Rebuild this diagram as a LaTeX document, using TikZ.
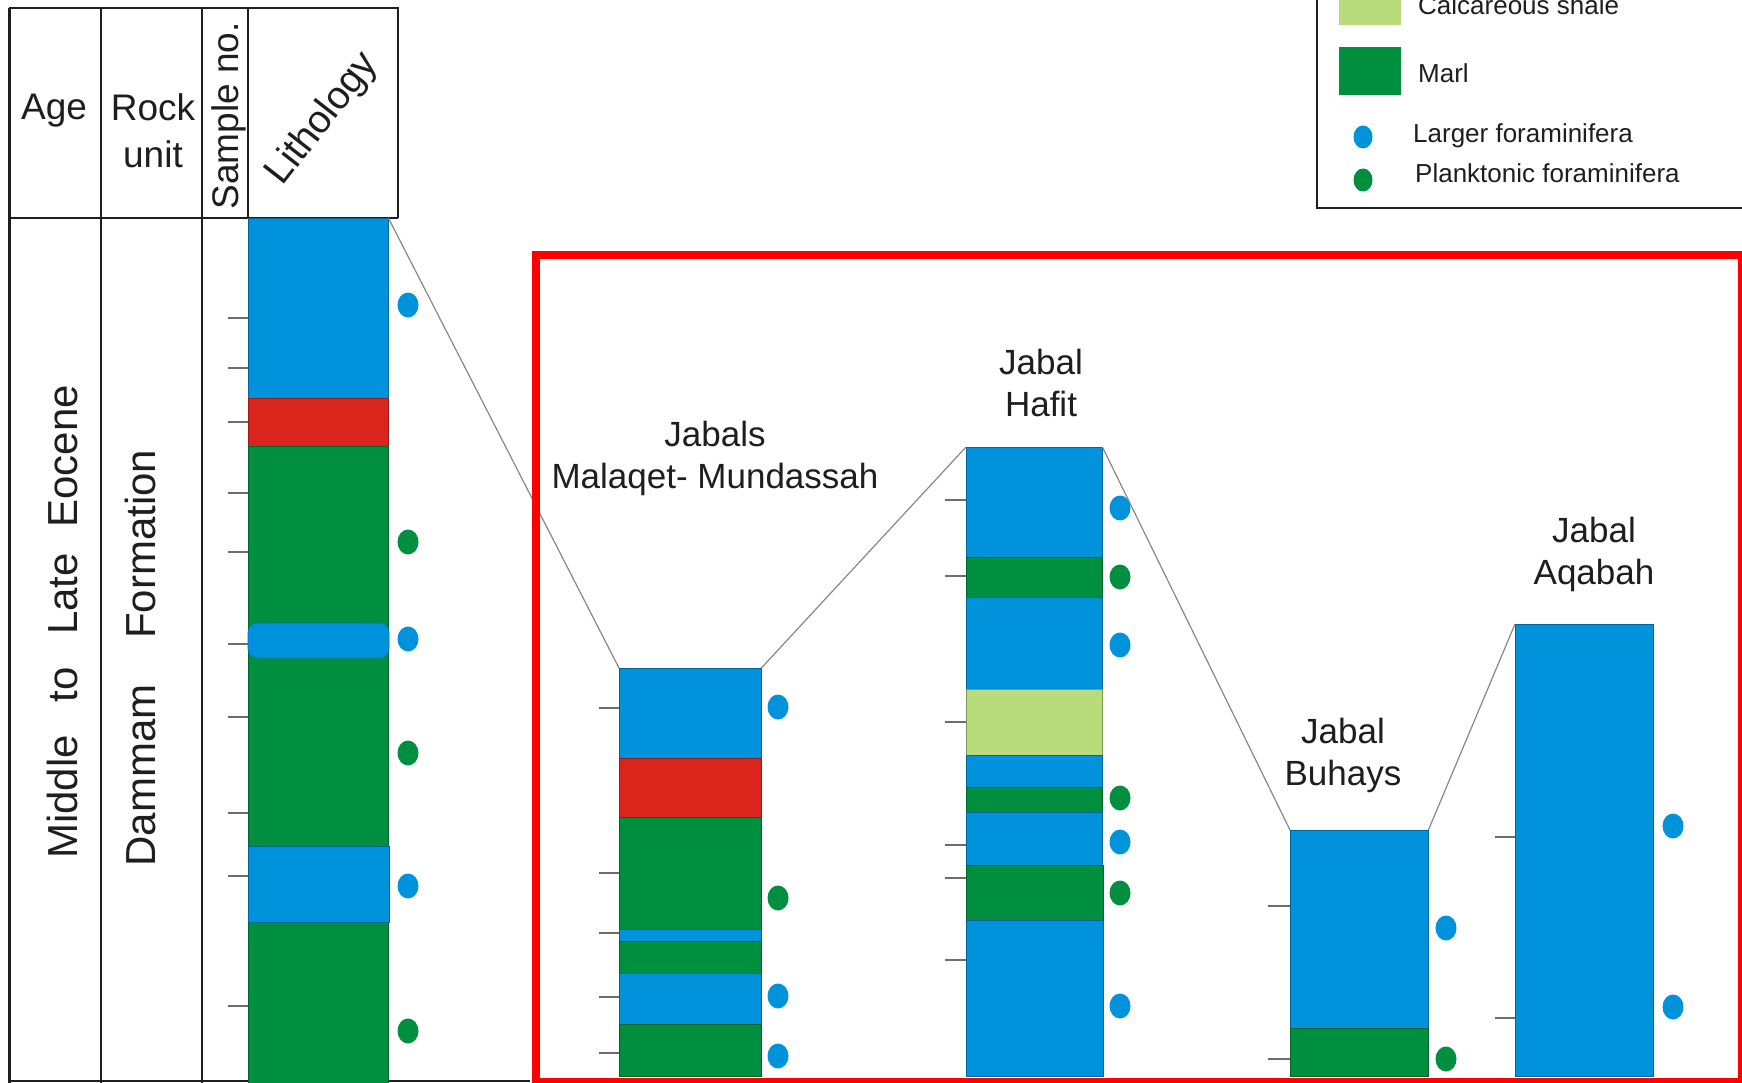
\documentclass[tikz,border=0pt]{standalone}
\usepackage{fontspec}
\setmainfont{Liberation Sans}
\usetikzlibrary{shapes.geometric}
\definecolor{lblue}{RGB}{0,146,219}
\definecolor{lred}{RGB}{217,37,28}
\definecolor{lgreen}{RGB}{0,143,62}
\definecolor{lpale}{RGB}{184,219,124}
\definecolor{hlred}{RGB}{255,0,0}
\definecolor{conn}{RGB}{135,135,135}
\definecolor{ink}{RGB}{30,30,30}
\newcommand\lyr[5]{\filldraw[fill=#1,draw=#1!70!black,line width=0.7pt] (#2,#3) rectangle (#4,#5);}
\begin{document}
\begin{tikzpicture}[x=1pt,y=-1pt,
  colbox/.style={draw=none,inner sep=0pt,anchor=north west},
  bdot/.style={ellipse,fill=lblue,draw=none,minimum width=21pt,minimum height=25pt,inner sep=0pt},
  gdot/.style={ellipse,fill=lgreen,draw=none,minimum width=21pt,minimum height=25pt,inner sep=0pt},
  tick/.style={draw=conn!80!black,line width=1.5pt},
  link/.style={draw=conn,line width=1.2pt},
  tbl/.style={draw=ink,line width=2pt},
  hdr/.style={text=ink,inner sep=0pt,font=\fontsize{37}{47}\selectfont},
  side/.style={text=ink,inner sep=0pt,font=\fontsize{42}{50}\selectfont,rotate=90,anchor=base},
  lbl/.style={text=ink,inner sep=0pt,align=center,anchor=north,font=\fontsize{35}{42}\selectfont},
  leg/.style={text=ink,inner sep=0pt,anchor=base west,font=\fontsize{26}{31}\selectfont}]
\useasboundingbox (0,0) rectangle (1742,1083);

% ---------- table ----------
\draw[tbl,line width=3pt] (9,8) -- (9,1083);
\draw[tbl,line width=2.6pt] (9,8) -- (398,8) -- (398,218);
\draw[tbl] (9,218) -- (398,218);
\draw[tbl] (101,8) -- (101,1083);
\draw[tbl] (202,8) -- (202,1083);
\draw[tbl] (248,8) -- (248,218);
\draw[tbl] (9,1081) -- (530,1081);

\node[hdr,anchor=base] (age) at (54,120) {Age};
\node[hdr,anchor=north,align=center] (rock) at (153,93) {Rock\\unit};
\node[hdr,rotate=90,anchor=base] (sample) at (238,116) {Sample no.};
\node[hdr,rotate=52,anchor=center,font=\fontsize{39}{47}\selectfont] (litho) at (323,119) {Lithology};

\node[side] (agev) at (77,622) {Middle\hspace{21pt} to\hspace{21pt} Late\hspace{14pt} Eocene};
\node[side] (unitv) at (155,658) {Dammam\hspace{34pt} Formation};

% ---------- column 1 (reference section) ----------
\node[colbox,minimum width=140pt,minimum height=865pt] (c1) at (248,218) {};
\lyr{lblue}{248}{218}{388}{398}
\lyr{lred}{248}{398}{388}{446}
\lyr{lgreen}{248}{446}{388}{1083}
\filldraw[fill=lblue,draw=lblue!80!black,line width=0.6pt,rounded corners=9pt] (248,623) rectangle (389,658);
\lyr{lblue}{248}{846}{389}{922}
\foreach \y in {318,368,422,493,552,644,717,813,876,1006} \draw[tick] (228,\y) -- (248,\y);
\foreach \y [count=\i] in {305,639,886} \node[bdot] (c1b\i) at (408,\y) {};
\foreach \y [count=\i] in {542,753,1031} \node[gdot] (c1g\i) at (408,\y) {};

% ---------- column 2 : Malaqet-Mundassah ----------
\node[colbox,minimum width=142pt,minimum height=408pt] (c2) at (619,668) {};
\lyr{lblue}{619}{668}{761}{758}
\lyr{lred}{619}{758}{761}{817}
\lyr{lgreen}{619}{817}{761}{929}
\lyr{lblue}{619}{929}{761}{941}
\lyr{lgreen}{619}{941}{761}{973}
\lyr{lblue}{619}{973}{761}{1024}
\lyr{lgreen}{619}{1024}{761}{1076}
\foreach \y in {708,873,933,997,1053} \draw[tick] (599,\y) -- (619,\y);
\foreach \y [count=\i] in {707,996,1056} \node[bdot] (c2b\i) at (778,\y) {};
\node[gdot] (c2g1) at (778,898) {};
\node[lbl] (l2) at (715,421) {Jabals\\Malaqet- Mundassah};

% ---------- column 3 : Hafit ----------
\node[colbox,minimum width=136pt,minimum height=629pt] (c3) at (966,447) {};
\lyr{lblue}{966}{447}{1102}{557}
\lyr{lgreen}{966}{557}{1102}{597}
\lyr{lblue}{966}{597}{1102}{689}
\lyr{lpale}{966}{689}{1102}{755}
\lyr{lblue}{966}{755}{1102}{787}
\lyr{lgreen}{966}{787}{1102}{812}
\lyr{lblue}{966}{812}{1102}{865}
\lyr{lgreen}{966}{865}{1103}{920}
\lyr{lblue}{966}{920}{1103}{1076}
\foreach \y in {500,576,722,845,878,960} \draw[tick] (945,\y) -- (966,\y);
\foreach \y [count=\i] in {508,645,842,1006} \node[bdot] (c3b\i) at (1120,\y) {};
\foreach \y [count=\i] in {577,798,893} \node[gdot] (c3g\i) at (1120,\y) {};
\node[lbl] (l3) at (1041,349) {Jabal\\Hafit};

% ---------- column 4 : Buhays ----------
\node[colbox,minimum width=138pt,minimum height=246pt] (c4) at (1290,830) {};
\lyr{lblue}{1290}{830}{1428}{1028}
\lyr{lgreen}{1290}{1028}{1428}{1076}
\foreach \y in {906,1059} \draw[tick] (1268,\y) -- (1290,\y);
\node[bdot] (c4b1) at (1446,928) {};
\node[gdot] (c4g1) at (1446,1059) {};
\node[lbl] (l4) at (1343,718) {Jabal\\Buhays};

% ---------- column 5 : Aqabah ----------
\node[colbox,minimum width=138pt,minimum height=452pt] (c5) at (1515,624) {};
\lyr{lblue}{1515}{624}{1653}{1076}
\foreach \y in {837,1018} \draw[tick] (1495,\y) -- (1515,\y);
\foreach \y [count=\i] in {826,1007} \node[bdot] (c5b\i) at (1673,\y) {};
\node[lbl] (l5) at (1594,517) {Jabal\\Aqabah};

% ---------- correlation lines ----------
\draw[link] (c1.north east) -- (c2.north west);
\draw[link] (c2.north east) -- (c3.north west);
\draw[link] (c3.north east) -- (c4.north west);
\draw[link] (c4.north east) -- (c5.north west);

% ---------- highlight frame ----------
\node[draw=hlred,line width=8pt,inner sep=0pt,anchor=north west,minimum width=1206pt,minimum height=827pt] (hl) at (532,251) {};

% ---------- legend ----------
\draw[draw=ink,line width=2.6pt] (1317,-10) -- (1317,208) -- (1750,208);
\fill[lpale] (1339,-20) rectangle (1401,25);
\node[leg] (lcs) at (1418,15) {Calcareous shale};
\fill[lgreen] (1339,47) rectangle (1401,95);
\node[leg] (lmarl) at (1418,83) {Marl};
\node[bdot,minimum width=19pt,minimum height=23pt] (lbd) at (1363,137) {};
\node[leg] (llf) at (1413,143) {Larger foraminifera};
\node[gdot,minimum width=19pt,minimum height=23pt] (lgd) at (1363,180) {};
\node[leg] (lpf) at (1415,183) {Planktonic foraminifera};
\end{tikzpicture}
\end{document}
